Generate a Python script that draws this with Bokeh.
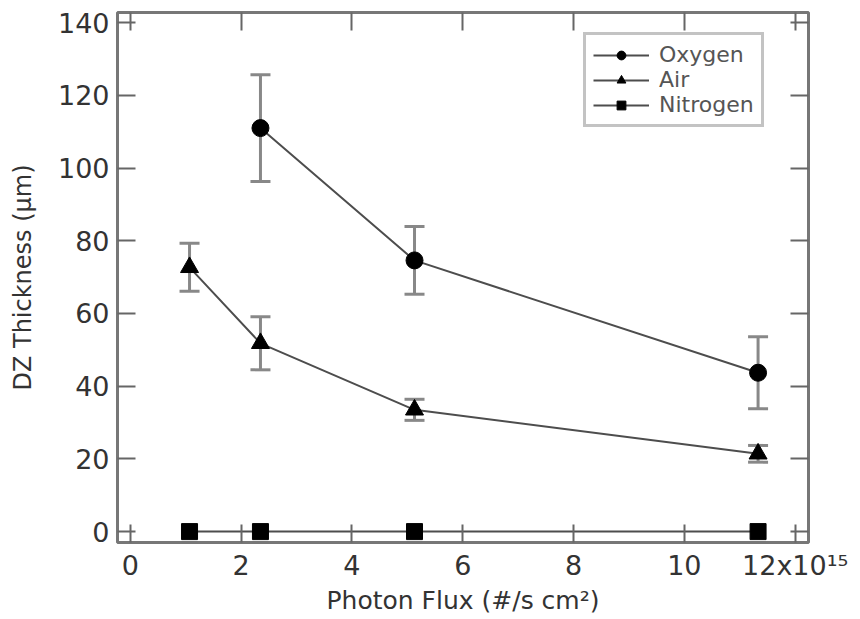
from bokeh.plotting import figure
from bokeh.models import (Range1d, FixedTicker, LinearAxis, Whisker, TeeHead,
                          ColumnDataSource, Legend, LegendItem)
from bokeh.embed import file_html
from bokeh.resources import INLINE

# ---- data (flux in units of 1e15 photons / s cm^2, thickness in um) ----
flux_oxygen = [2.35, 5.13, 11.33]
thick_oxygen = [111.0, 74.6, 43.7]
err_oxygen = [14.7, 9.3, 9.9]

flux_air = [1.07, 2.35, 5.13, 11.33]
thick_air = [72.7, 51.8, 33.5, 21.4]
err_air = [6.6, 7.3, 2.9, 2.3]

flux_nitrogen = [1.07, 2.35, 5.13, 11.33]
thick_nitrogen = [0.0, 0.0, 0.0, 0.0]

x_ticks = [0, 2, 4, 6, 8, 10, 12]
x_tick_labels = ["0", "2", "4", "6", "8", "10", "12x10¹⁵"]
y_ticks = [0, 20, 40, 60, 80, 100, 120, 140]

FONT = "DejaVu Sans"
AX = "#777777"
TICK = "#666666"
TXT = "#333333"

p = figure(width=860, height=619, output_backend="svg", toolbar_location=None,
           x_range=Range1d(-0.23, 12.24), y_range=Range1d(-3.0, 142.8),
           min_border_left=117, min_border_right=52, min_border_top=12,
           min_border_bottom=77)
p.xgrid.visible = False
p.ygrid.visible = False
p.outline_line_color = AX
p.outline_line_width = 3
p.background_fill_color = "white"

def style_axis(ax, show_labels):
    ax.axis_line_color = None
    ax.major_tick_in = 18
    ax.major_tick_out = 0
    ax.major_tick_line_color = TICK
    ax.major_tick_line_width = 2
    ax.minor_tick_line_color = None
    ax.major_label_text_font = FONT
    ax.major_label_text_color = TXT
    ax.major_label_text_font_size = "27px"
    if not show_labels:
        ax.major_label_overrides = {t: "" for t in ax.ticker.ticks}
        ax.major_label_standoff = 0

xa = p.xaxis[0]
ya = p.yaxis[0]
xa.ticker = FixedTicker(ticks=x_ticks)
ya.ticker = FixedTicker(ticks=y_ticks)
style_axis(xa, True)
style_axis(ya, True)
xa.major_label_overrides = {t: s for t, s in zip(x_ticks, x_tick_labels)}
xa.major_label_standoff = 7
ya.major_label_standoff = 8
xa.axis_label = "Photon Flux (#/s cm²)"
ya.axis_label = "DZ Thickness (µm)"
for ax, sz, so in ((xa, "25px", 2), (ya, "24px", 18)):
    ax.axis_label_text_font = FONT
    ax.axis_label_text_font_size = sz
    ax.axis_label_text_font_style = "normal"
    ax.axis_label_text_color = TXT
    ax.axis_label_standoff = so

top = LinearAxis(ticker=FixedTicker(ticks=x_ticks))
right = LinearAxis(ticker=FixedTicker(ticks=y_ticks))
style_axis(top, False)
style_axis(right, False)
p.add_layout(top, "above")
p.add_layout(right, "right")

# error bars
def whisk(xs, ys, es):
    src = ColumnDataSource(dict(x=xs, lo=[y - e for y, e in zip(ys, es)],
                                hi=[y + e for y, e in zip(ys, es)]))
    w = Whisker(source=src, base="x", lower="lo", upper="hi", dimension="height",
                line_color="#888888", line_width=3,
                upper_head=TeeHead(size=20, line_color="#888888", line_width=3),
                lower_head=TeeHead(size=20, line_color="#888888", line_width=3),
                level="underlay")
    p.add_layout(w)

whisk(flux_oxygen, thick_oxygen, err_oxygen)
whisk(flux_air, thick_air, err_air)

LC = "#4d4d4d"
l_o = p.line(flux_oxygen, thick_oxygen, line_color=LC, line_width=2)
m_o = p.scatter(flux_oxygen, thick_oxygen, marker="circle", size=17,
                fill_color="black", line_color="black")
l_a = p.line(flux_air, thick_air, line_color=LC, line_width=2)
m_a = p.scatter(flux_air, thick_air, marker="triangle", size=18,
                fill_color="black", line_color="black")
l_n = p.line(flux_nitrogen, thick_nitrogen, line_color=LC, line_width=2)
m_n = p.scatter(flux_nitrogen, thick_nitrogen, marker="square", size=16,
                fill_color="black", line_color="black")

legend = Legend(items=[LegendItem(label="Oxygen", renderers=[l_o, m_o]),
                       LegendItem(label="Air", renderers=[l_a, m_a]),
                       LegendItem(label="Nitrogen", renderers=[l_n, m_n])],
                location=(466, 415))
legend.label_text_font = FONT
legend.label_text_font_size = "22px"
legend.label_text_color = "#555555"
legend.label_height = 22
legend.glyph_height = 22
legend.glyph_width = 56
legend.label_standoff = 10
legend.spacing = 0
legend.padding = 7
legend.margin = 0
legend.border_line_color = "#888888"
legend.border_line_width = 3
legend.background_fill_color = "white"
p.add_layout(legend, "center")

open("out.html", "w").write(file_html(p, INLINE))
